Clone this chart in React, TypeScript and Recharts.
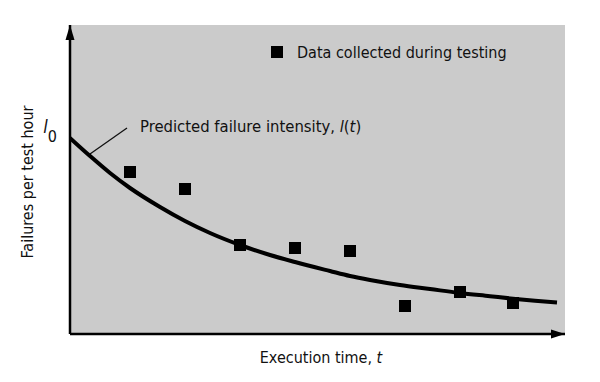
import React from "react";
import {
  ComposedChart,
  Line,
  Scatter,
  XAxis,
  YAxis,
  CartesianGrid,
  ReferenceLine,
  ReferenceDot,
  Legend,
  Label,
} from "recharts";

// Execution time (arbitrary units) and predicted failure intensity
const curveTime = [0, 20, 40, 60, 90, 115, 140, 170, 200, 225, 260, 280, 300, 330, 360, 390, 420, 443, 465, 487];
const curveIntensity = [196, 178, 161, 146, 127, 113, 101, 89, 79, 72, 63, 58, 54, 49, 45, 41, 37.8, 35.3, 33.3, 31.5];

// Data collected during testing
const dataTime = [60, 115, 170, 225, 280, 335, 390, 443];
const dataFailures = [162, 145, 89, 86, 83, 28, 42, 31];

const xMax = 495;
const yMax = 309;
const initialIntensity = 196;

const curveData = curveTime.map((t, i) => ({ t, v: curveIntensity[i] }));
const scatterData = dataTime.map((t, i) => ({ t, v: dataFailures[i] }));

const FONT = "'Liberation Sans Narrow', 'DejaVu Sans Condensed', 'Liberation Sans', sans-serif";

const SquareShape = (props: any) => {
  const { cx, cy } = props;
  return <rect x={cx - 6} y={cy - 6} width={12} height={12} fill="#000" />;
};

const UpArrow = (props: any) => {
  const { cx, cy } = props;
  return <polygon points={`${cx},${cy} ${cx - 4.5},${cy + 15} ${cx + 4.5},${cy + 15}`} fill="#000" />;
};

const RightArrow = (props: any) => {
  const { cx, cy } = props;
  return <polygon points={`${cx},${cy} ${cx - 14},${cy - 4.5} ${cx - 14},${cy + 4.5}`} fill="#000" />;
};

const PredictedLabel = (props: any) => {
  const { cx, cy } = props;
  return (
    <text x={cx} y={cy} fontFamily={FONT} fontSize={16.5} fill="#111">
      Predicted failure intensity, <tspan fontStyle="italic">l</tspan>(<tspan fontStyle="italic">t</tspan>)
    </text>
  );
};

const L0Tick = (props: any) => {
  const { x, y } = props;
  return (
    <text x={x} y={y - 5} fontFamily={FONT} fontSize={18} fill="#111" textAnchor="end">
      <tspan fontStyle="italic">l</tspan>
      <tspan fontSize={16} dy={9}>0</tspan>
    </text>
  );
};

const LegendContent = () => (
  <svg width={300} height={20} style={{ overflow: "visible" }}>
    <rect x={0} y={0} width={12} height={12} fill="#000" />
    <text x={26} y={12} fontFamily={FONT} fontSize={16} fill="#111">
      Data collected during testing
    </text>
  </svg>
);

const YLabel = (props: any) => {
  const vb = props.viewBox;
  const x = vb.x + vb.width - 37;
  const y = vb.y + vb.height / 2 + 2.5;
  return (
    <text x={x} y={y} transform={`rotate(-90, ${x}, ${y})`} textAnchor="middle" fontFamily={FONT} fontSize={16} fill="#111">
      Failures per test hour
    </text>
  );
};

const XLabel = (props: any) => {
  const vb = props.viewBox;
  const x = vb.x + vb.width / 2 + 3.5;
  const y = vb.y + 29;
  return (
    <text x={x} y={y} textAnchor="middle" fontFamily={FONT} fontSize={16} fill="#111">
      Execution time, <tspan fontStyle="italic">t</tspan>
    </text>
  );
};

export default function App() {
  return (
    <ComposedChart
      width={600}
      height={374}
      margin={{ top: 17, right: 43, bottom: 18, left: 22 }}
    >
      <CartesianGrid fill="#cbcbcb" stroke="none" horizontal={false} vertical={false} />
      <XAxis
        type="number"
        dataKey="t"
        domain={[0, xMax]}
        allowDataOverflow
        height={30}
        tick={false}
        tickLine={false}
        axisLine={{ stroke: "#000", strokeWidth: 2.5 }}
      >
        <Label content={XLabel} />
      </XAxis>
      <YAxis
        type="number"
        dataKey="v"
        domain={[0, yMax]}
        allowDataOverflow
        width={40}
        ticks={[initialIntensity]}
        tick={L0Tick}
        tickLine={false}
        tickSize={0}
        tickMargin={13}
        axisLine={{ stroke: "#000", strokeWidth: 2.5 }}
      >
        <Label content={YLabel} />
      </YAxis>
      <Legend
        layout="vertical"
        align="center"
        verticalAlign="middle"
        content={LegendContent}
        wrapperStyle={{ top: 38, left: 263, width: 300 }}
      />
      <ReferenceLine
        segment={[{ x: 20, y: 180 }, { x: 57, y: 206 }]}
        stroke="#111"
        strokeWidth={1.3}
      />
      <ReferenceDot x={70} y={202} r={0} shape={PredictedLabel} />
      <Line
        data={curveData}
        dataKey="v"
        type="monotone"
        stroke="#000"
        strokeWidth={4}
        dot={false}
        isAnimationActive={false}
        legendType="none"
      />
      <Scatter
        data={scatterData}
        dataKey="v"
        shape={SquareShape}
        fill="#000"
        isAnimationActive={false}
      />
      <ReferenceDot x={0} y={yMax} r={0} shape={UpArrow} ifOverflow="visible" />
      <ReferenceDot x={xMax} y={0} r={0} shape={RightArrow} ifOverflow="visible" />
    </ComposedChart>
  );
}
